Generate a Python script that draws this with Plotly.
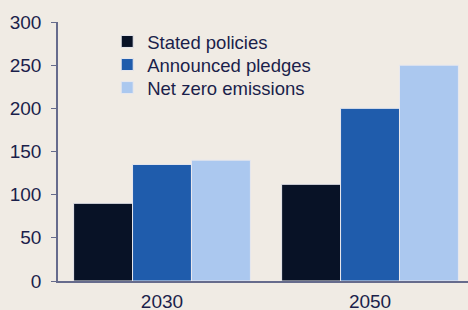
import plotly.graph_objects as go

categories = ["2030", "2050"]
series_names = ["Stated policies", "Announced pledges", "Net zero emissions"]
stated = [90, 112]
announced = [135, 200]
netzero = [140, 250]
colors = ["#081226", "#1f5cac", "#abc8ef"]
y_ticks = [0, 50, 100, 150, 200, 250, 300]

bg = "#f0ebe4"
txt = "#1b1f4b"
axis_c = "#666b8c"

legend_ids = ["legend", "legend2", "legend3"]
legend_y = [0.923, 0.834, 0.745]

fig = go.Figure()
for name, vals, col, lid in zip(series_names, [stated, announced, netzero], colors, legend_ids):
    fig.add_trace(go.Bar(
        x=categories, y=vals, name=name, legend=lid,
        marker=dict(color=col, line=dict(color="#e8e8ee", width=1)),
    ))

leg_common = dict(x=0.12, xanchor="left", yanchor="middle",
                  bgcolor="rgba(0,0,0,0)", font=dict(size=18.5, color=txt),
                  itemwidth=30)

fig.update_layout(
    width=468, height=310,
    paper_bgcolor=bg, plot_bgcolor=bg,
    margin=dict(l=58, r=0, t=22, b=29, autoexpand=False),
    barmode="group", bargap=0.15, bargroupgap=0,
    font=dict(family="Liberation Sans, Arial, sans-serif", size=19, color=txt),
    showlegend=True,
    legend=dict(y=legend_y[0], **leg_common),
    legend2=dict(y=legend_y[1], **leg_common),
    legend3=dict(y=legend_y[2], **leg_common),
    xaxis=dict(range=[-0.5, 1.471], showline=True, linecolor=axis_c, linewidth=2,
               ticks="", showgrid=False, tickfont=dict(size=19, color=txt),
               automargin=False, ticklabelstandoff=2),
    yaxis=dict(range=[0, 300], tickvals=y_ticks, showline=True, linecolor=axis_c,
               linewidth=1.5, ticks="outside", ticklen=5, tickcolor=axis_c,
               showgrid=False, zeroline=False, tickfont=dict(size=19, color=txt),
               ticklabelstandoff=6, automargin=False),
)

fig.write_html("out.html", config={"displayModeBar": False},
               post_script="document.body.style.margin='0';document.body.style.padding='0';")
